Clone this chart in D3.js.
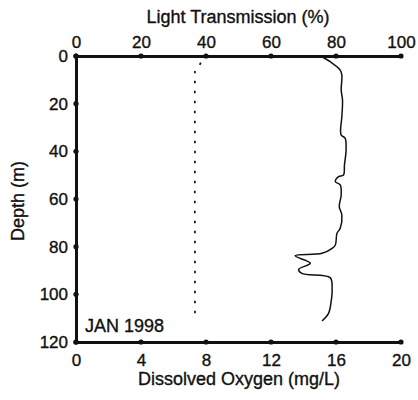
<!DOCTYPE html>
<html>
<head>
<meta charset="utf-8">
<script src="https://cdn.jsdelivr.net/npm/d3@7"></script>
<style>
  html, body { margin: 0; padding: 0; background: #fff; }
  svg { display: block; font-family: "Liberation Sans", Arial, Helvetica, sans-serif; }
  svg text { stroke: #111; stroke-width: 0.35px; }
</style>
</head>
<body>
<svg id="chart" width="418" height="400"></svg>
<script>
// ---- data ----
const topTicks = [0, 20, 40, 60, 80, 100];
const bottomTicks = [0, 4, 8, 12, 16, 20];
const depthTicks = [0, 20, 40, 60, 80, 100, 120];

// Light transmission (%) profile (solid line, top axis)
const ltDepth = [0, 2.4, 5.9, 8.0, 14.3, 18.5, 25.5, 31.1, 33.2, 34.5, 39.4, 45.7, 49.9, 50.6, 52.7, 54.1, 58.3, 63.2, 66.7, 72.3, 74.4, 79.3, 80.7, 82.8, 83.8, 87.0, 89.5, 91.2, 93.0, 97.5, 103.1, 108.0, 111.2];
const ltValue = [75.3, 78.2, 81.3, 81.8, 81.6, 82.0, 81.8, 81.4, 81.6, 82.8, 83.1, 82.6, 82.3, 80.8, 79.8, 81.3, 81.6, 81.0, 81.8, 81.3, 80.3, 79.8, 78.8, 75.7, 67.4, 72.1, 68.5, 69.5, 78.2, 78.8, 78.5, 77.7, 75.7];

// Dissolved oxygen (mg/L) profile (dotted line, bottom axis)
const doDepth = [2.8, 4.5, 6.5, 20, 40, 60, 80, 100, 110.8];
const doValue = [7.68, 7.55, 7.32, 7.31, 7.32, 7.31, 7.32, 7.32, 7.32];

const caseLabel = "JAN 1998";

// ---- layout ----
const svg = d3.select("#chart");
const x0 = 76, x1 = 401, y0 = 56, y1 = 342;

const xTop = d3.scaleLinear().domain([0, 100]).range([x0, x1]);
const xBot = d3.scaleLinear().domain([0, 20]).range([x0, x1]);
const y = d3.scaleLinear().domain([0, 120]).range([y0, y1]);

function styleAxis(g) {
  g.select(".domain").attr("stroke", "#111").attr("stroke-width", 3).attr("stroke-linecap", "square");
  g.selectAll(".tick text").attr("font-size", 17).attr("fill", "#111");
  g.selectAll(".tick line").remove();
}

svg.append("g").attr("transform", `translate(0,${y0})`)
  .call(d3.axisTop(xTop).tickValues(topTicks).tickSize(0).tickSizeOuter(0).tickPadding(8))
  .call(styleAxis);

svg.append("g").attr("transform", `translate(0,${y1})`)
  .call(d3.axisBottom(xBot).tickValues(bottomTicks).tickSize(0).tickSizeOuter(0).tickPadding(12))
  .call(styleAxis);

svg.append("g").attr("transform", `translate(${x0},0)`)
  .call(d3.axisLeft(y).tickValues(depthTicks).tickSize(0).tickSizeOuter(0).tickPadding(8))
  .call(styleAxis);

// tick dots
const dots = svg.append("g").attr("fill", "#111");
dots.selectAll(".dt").data(topTicks).join("circle")
  .attr("cx", d => xTop(d)).attr("cy", y0).attr("r", 2.6);
dots.selectAll(".db").data(bottomTicks).join("circle")
  .attr("cx", d => xBot(d)).attr("cy", y1).attr("r", 2.6);
dots.selectAll(".dl").data(depthTicks).join("circle")
  .attr("cx", x0).attr("cy", d => y(d)).attr("r", 2.6);

// lines
const ltLine = d3.line().x((d, i) => xTop(ltValue[i])).y((d, i) => y(ltDepth[i])).curve(d3.curveCatmullRom.alpha(0.5));
svg.append("path").datum(ltDepth).attr("d", ltLine)
  .attr("fill", "none").attr("stroke", "#111").attr("stroke-width", 1.5);

const doLine = d3.line().x((d, i) => xBot(doValue[i])).y((d, i) => y(doDepth[i])).curve(d3.curveMonotoneY);
svg.append("path").datum(doDepth).attr("d", doLine)
  .attr("fill", "none").attr("stroke", "#111").attr("stroke-width", 1.7)
  .attr("stroke-dasharray", "2.5,7.5");

// titles
svg.append("text").attr("x", 238).attr("y", 23).attr("text-anchor", "middle")
  .attr("font-size", 18).attr("fill", "#111").text("Light Transmission (%)");
svg.append("text").attr("x", 239).attr("y", 385).attr("text-anchor", "middle")
  .attr("font-size", 18).attr("fill", "#111").text("Dissolved Oxygen (mg/L)");
svg.append("text").attr("transform", "translate(24,201) rotate(-90)").attr("text-anchor", "middle")
  .attr("font-size", 18).attr("fill", "#111").text("Depth (m)");
svg.append("text").attr("x", 85).attr("y", 332)
  .attr("font-size", 18).attr("fill", "#111").text(caseLabel);
</script>
</body>
</html>
